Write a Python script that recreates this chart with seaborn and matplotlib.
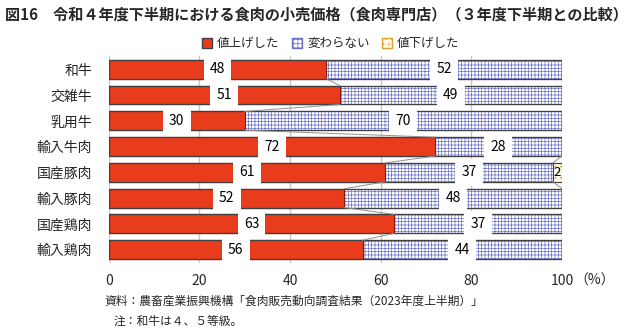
import matplotlib
matplotlib.use("Agg")
import matplotlib.pyplot as plt
import seaborn as sns
import pandas as pd
import numpy as np
from matplotlib.patches import Patch

categories = ["和牛", "交雑牛", "乳用牛", "輸入牛肉", "国産豚肉", "輸入豚肉", "国産鶏肉", "輸入鶏肉"]
raised = [48, 51, 30, 72, 61, 52, 63, 56]
unchanged = [52, 49, 70, 28, 37, 48, 37, 44]
lowered = [0, 0, 0, 0, 2, 0, 0, 0]
series_names = ["値上げした", "変わらない", "値下げした"]
xticks = [0, 20, 40, 60, 80, 100]
xtick_labels = ["0", "20", "40", "60", "80", "100"]
title = "図16　令和４年度下半期における食肉の小売価格（食肉専門店）（３年度下半期との比較）"
note1 = "資料：農畜産業振興機構「食肉販売動向調査結果（2023年度上半期）」"
note2 = "注：和牛は４、５等級。"

sns.set_theme(style="white")
plt.rcParams['font.family'] = ['Noto Sans CJK JP', 'DejaVu Sans']
plt.rcParams['hatch.linewidth'] = 0.5

df = pd.DataFrame({"cat": categories, "r": raised, "u": unchanged, "l": lowered})
df["c1"] = df["r"]
df["c2"] = df["r"] + df["u"]
df["c3"] = df["c2"] + df["l"]

fig = plt.figure(figsize=(6.4, 3.31), dpi=100)
ax = fig.add_axes([0.170, 0.2054, 0.708, 0.6256])

red = "#e83c1c"
blue_hatch = "#6a72c8"
yellow_hatch = "#e0a030"
H = 0.73

# back to front
sns.barplot(data=df, y="cat", x="c3", orient="h", color="white", width=H, ax=ax,
            edgecolor="#404040", linewidth=0.8, saturation=1)
n0 = len(ax.patches)
sns.barplot(data=df, y="cat", x="c2", orient="h", color="white", width=H, ax=ax,
            edgecolor="#404040", linewidth=0.8, saturation=1)
n1 = len(ax.patches)
sns.barplot(data=df, y="cat", x="c1", orient="h", color=red, width=H, ax=ax,
            edgecolor="#8a1a08", linewidth=0.8, saturation=1)
patches = ax.patches
for p in patches[:n0]:
    p.set_hatch("...")
    p.set_facecolor("#fffbea")
    p.set_edgecolor(yellow_hatch)
for p in patches[n0:n1]:
    p.set_hatch("+++++")
    p.set_edgecolor(blue_hatch)
for p in patches[:n1]:
    if p.get_width() > 0:
        ax.add_patch(plt.Rectangle(p.get_xy(), p.get_width(), p.get_height(),
                                   fill=False, edgecolor="#404040", linewidth=0.8, zorder=p.get_zorder() + 0.01))

ax.set_xlim(0, 100)
ax.set_ylim(7.52, -0.52)
ax.set_xticks(xticks)
ax.set_xticklabels(xtick_labels, fontsize=10)
ax.set_xlabel("")
ax.set_ylabel("")
ax.tick_params(axis="y", labelsize=10, length=0, pad=12)
ax.tick_params(axis="x", length=0, pad=8)
ax.annotate("（%）", xy=(100, 0), xycoords=("data", "axes fraction"),
            xytext=(9, -8), textcoords="offset points", ha="left", va="top", fontsize=10)
ax.xaxis.grid(True, color="#c8c8c8", linewidth=1.0)
ax.set_axisbelow(True)
for s in ax.spines.values():
    s.set_visible(False)

# series lines
for i in range(len(categories) - 1):
    for col in ["c1", "c2"]:
        ax.plot([df[col][i], df[col][i + 1]], [i + H / 2, i + 1 - H / 2],
                color="#909090", linewidth=0.7, zorder=1.5)

# labels
for i in range(len(categories)):
    segs = [(0, raised[i], True), (raised[i], unchanged[i], True),
            (raised[i] + unchanged[i], lowered[i], False)]
    for start, v, boxed in segs:
        if v > 0:
            kw = {}
            if boxed:
                kw["bbox"] = dict(boxstyle="square,pad=0.45", facecolor="white", edgecolor="none")
            ax.text(start + v / 2, i, f"{v}", ha="center", va="center",
                    fontsize=10 if boxed else 9.5, color="black", zorder=5, **kw)

handles = [Patch(facecolor=red, edgecolor="#404040"),
           Patch(facecolor="white", edgecolor=blue_hatch, hatch="++++"),
           Patch(facecolor="#fffbea", edgecolor=yellow_hatch, hatch="...")]
fig.legend(handles, series_names, loc="center", bbox_to_anchor=(0.517, 0.868), ncol=3,
           frameon=False, fontsize=9, handlelength=0.8, handleheight=0.8,
           handletextpad=0.4, columnspacing=1.0)

fig.text(0.008, 0.955, title, fontsize=10.9, fontweight="bold", va="center", ha="left")
fig.text(0.1625, 0.09, note1, fontsize=8.5, va="center", ha="left")
fig.text(0.178, 0.028, note2, fontsize=8.5, va="center", ha="left")

fig.savefig("out.png", dpi=100)
